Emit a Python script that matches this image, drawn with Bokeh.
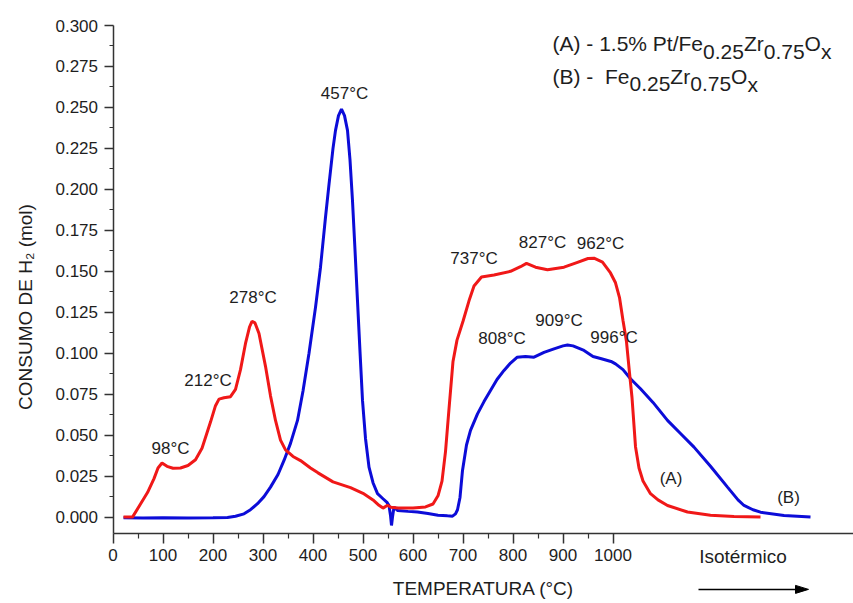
from bokeh.plotting import figure
from bokeh.models import Range1d, FixedTicker, PrintfTickFormatter, Label, Title, ColumnDataSource
from bokeh.embed import file_html
from bokeh.resources import INLINE

# (A) 1.5% Pt/Fe0.25Zr0.75Ox  -- H2 consumption vs temperature
temp_a = [21, 39, 55, 69, 82, 90, 98, 108, 120, 135, 150, 165, 178, 195, 205, 212, 222, 235,
          245, 255, 265, 273, 278, 284, 292, 305, 315, 325, 335, 345, 360, 375, 395, 410,
          440, 475, 500, 520, 532, 540, 549, 556, 570, 600, 625, 640, 650, 658, 665, 672,
          680, 688, 700, 712, 722, 737, 762, 795, 815, 827, 845, 869, 902, 929, 950, 962,
          979, 995, 1005, 1013, 1020, 1027, 1033, 1038, 1045, 1052, 1060, 1075, 1090, 1109,
          1149, 1195, 1242, 1295]
h2_a = [0.000, 0.000, 0.008, 0.015, 0.0235, 0.030, 0.033, 0.031, 0.0298, 0.030, 0.0315, 0.035,
        0.042, 0.058, 0.068, 0.072, 0.0728, 0.0735, 0.078, 0.090, 0.106, 0.116, 0.1195, 0.1185,
        0.112, 0.092, 0.074, 0.059, 0.047, 0.041, 0.037, 0.0345, 0.030, 0.027, 0.0215, 0.018,
        0.0145, 0.0105, 0.0072, 0.0055, 0.0072, 0.006, 0.0055, 0.0056, 0.0062, 0.008, 0.013,
        0.022, 0.040, 0.066, 0.095, 0.108, 0.1195, 0.132, 0.141, 0.1465, 0.1478, 0.150, 0.1528,
        0.1548, 0.1525, 0.151, 0.1525, 0.1555, 0.1578, 0.158, 0.1556, 0.149, 0.143, 0.134,
        0.120, 0.107, 0.088, 0.073, 0.043, 0.030, 0.022, 0.0143, 0.0105, 0.0071, 0.0031,
        0.0012, 0.0004, 0.000]

# (B) Fe0.25Zr0.75Ox
temp_b = [21, 60, 100, 150, 200, 229, 245, 262, 275, 289, 302, 315, 330, 342, 355, 369, 380,
          392, 405, 415, 425, 432, 440, 445, 451, 457, 463, 469, 474, 479, 484, 489, 494, 499,
          505, 512, 520, 529, 540, 548, 552, 555, 557, 559, 562, 569, 590, 609, 630, 650, 669,
          679, 685, 689, 694, 699, 707, 715, 729, 742, 755, 768, 782, 795, 808, 825, 842, 862,
          882, 900, 909, 920, 942, 960, 975, 996, 1005, 1020, 1035, 1055, 1080, 1109, 1135,
          1162, 1195, 1229, 1250, 1262, 1280, 1295, 1342, 1395]
h2_b = [-0.0004, -0.0005, -0.0004, -0.0005, -0.0004, -0.0003, 0.0005, 0.002, 0.0045, 0.0082,
        0.0125, 0.0183, 0.026, 0.0346, 0.045, 0.059, 0.077, 0.100, 0.128, 0.1525, 0.183, 0.203,
        0.225, 0.236, 0.245, 0.249, 0.245, 0.236, 0.218, 0.193, 0.163, 0.132, 0.101, 0.0712,
        0.048, 0.0305, 0.021, 0.0143, 0.0112, 0.009, 0.007, 0.001, -0.0051, 0.000, 0.0061,
        0.0041, 0.0035, 0.0031, 0.0022, 0.0012, 0.0008, 0.0006, 0.002, 0.0045, 0.012, 0.0285,
        0.044, 0.0529, 0.063, 0.0705, 0.0773, 0.084, 0.0895, 0.094, 0.0975, 0.098, 0.0976,
        0.1005, 0.1027, 0.1045, 0.105, 0.1045, 0.1017, 0.098, 0.0968, 0.095, 0.0935, 0.090,
        0.0844, 0.0783, 0.070, 0.059, 0.051, 0.0427, 0.031, 0.0183, 0.0105, 0.0071, 0.0045,
        0.003, 0.001, 0.000]

# peak labels
peak_text = ["98°C", "212°C", "278°C", "457°C", "737°C", "827°C", "962°C",
             "808°C", "909°C", "996°C", "(A)", "(B)"]
peak_x = [115, 190, 280, 463, 722, 859, 975, 778, 892, 1002, 1116, 1351]
peak_y = [0.0418, 0.0834, 0.134, 0.2583, 0.1577, 0.1678, 0.1668, 0.1088, 0.120, 0.1098,
          0.0234, 0.0122]

x_major = [0, 100, 200, 300, 400, 500, 600, 700, 800, 900, 1000]
x_minor = [50, 150, 250, 350, 450, 550, 650, 750, 850, 950]
y_major = [0.000, 0.025, 0.050, 0.075, 0.100, 0.125, 0.150, 0.175, 0.200, 0.225, 0.250,
           0.275, 0.300]
y_minor = [0.0125, 0.0375, 0.0625, 0.0875, 0.1125, 0.1375, 0.1625, 0.1875, 0.2125, 0.2375,
           0.2625, 0.2875]

# legend lines: (text, is_subscript, extra gap before the piece in spaces)
legend_a = [("(A) - 1.5% Pt/Fe", False, 0), ("0.25", True, 0), ("Zr", False, 0),
            ("0.75", True, 0), ("O", False, 0), ("x", True, 0)]
legend_b = [("(B) -", False, 0), ("Fe", False, 2), ("0.25", True, 0), ("Zr", False, 0),
            ("0.75", True, 0), ("O", False, 0), ("x", True, 0)]

FONT = "Liberation Sans"
INK = "#1e1e1e"
RED = "#f01818"
BLUE = "#0c0cd8"

# geometry of the plotting area (px) and its data scales
LEFT, TOP = 45, 10
AXIS_TOP_PX = 25                          # where y = Y_TOP sits on the canvas
FRAME_W, FRAME_H = 853 - LEFT, 603 - TOP
Y_BASE, Y_TOP = -0.01, 0.30              # extent of the drawn y axis
PX_PER_Y = 508 / (Y_TOP - Y_BASE)
PX_PER_X = 0.5
X_START = -(112.5 - LEFT) / PX_PER_X      # room left of the y axis for its tick labels
X_END = X_START + FRAME_W / PX_PER_X
Y_END = Y_TOP + (AXIS_TOP_PX - TOP) / PX_PER_Y
Y_START = Y_END - FRAME_H / PX_PER_Y      # room below the x axis for its labels

p = figure(width=853, height=603, x_range=Range1d(X_START, X_END),
           y_range=Range1d(Y_START, Y_END),
           output_backend="svg", toolbar_location=None,
           min_border_left=LEFT, min_border_right=0, min_border_top=TOP, min_border_bottom=0)
p.outline_line_color = None
p.grid.visible = False
p.background_fill_color = "white"
p.border_fill_color = "white"

p.line(temp_b, h2_b, line_color=BLUE, line_width=3)
p.line(temp_a, h2_a, line_color=RED, line_width=3)

src = ColumnDataSource(dict(x=peak_x, y=peak_y, t=peak_text))
p.text(x="x", y="y", text="t", source=src, text_align="center", text_baseline="middle",
       text_font_size="17px", text_color=INK, text_font={"value": FONT})

# axes, drawn inside the frame at x = 0 and y = Y_BASE
xa = p.xaxis[0]
xa.fixed_location = Y_BASE
xa.bounds = (0, X_END)
xa.ticker = FixedTicker(ticks=x_major, minor_ticks=x_minor)
xa.axis_label = "TEMPERATURA (°C)"
xa.major_tick_out = 10
xa.major_tick_in = 0
xa.minor_tick_out = 5
xa.minor_tick_in = 0
xa.major_label_standoff = 5
xa.axis_label_standoff = 14

ya = p.yaxis[0]
ya.fixed_location = 0
ya.bounds = (Y_BASE, Y_TOP)
ya.ticker = FixedTicker(ticks=y_major, minor_ticks=y_minor)
ya.formatter = PrintfTickFormatter(format="%.3f")
ya.major_tick_out = 9
ya.major_tick_in = 0
ya.minor_tick_out = 4
ya.minor_tick_in = 0
ya.major_label_standoff = 6

for ax in (xa, ya):
    ax.axis_line_color = "#333333"
    ax.axis_line_width = 1.5
    ax.major_tick_line_color = "#333333"
    ax.minor_tick_line_color = "#333333"
    ax.major_tick_line_width = 1.5
    ax.minor_tick_line_width = 1.2
    ax.major_label_text_font = FONT
    ax.major_label_text_font_size = "17px"
    ax.major_label_text_color = INK
    ax.axis_label_text_font = FONT
    ax.axis_label_text_font_size = "19px"
    ax.axis_label_text_font_style = "normal"
    ax.axis_label_text_color = INK

# y axis title, centred on the drawn axis extent
frame_mid = (Y_END + Y_START) / 2
axis_mid = (Y_TOP + Y_BASE) / 2
p.add_layout(Title(text="CONSUMO DE H₂ (mol)", align="center",
                   offset=(axis_mid - frame_mid) * PX_PER_Y, standoff=20,
                   text_font=FONT, text_font_size="19px", text_font_style="normal",
                   text_color=INK), "left")

# isothermal segment marker below the axis
p.add_layout(Label(x=1260, y=-0.0238, text="Isotérmico", text_align="center",
                   text_baseline="middle", text_font=FONT, text_font_size="19px",
                   text_color=INK))
arrow_y = -0.0441
arrow_x0, arrow_x1 = 1171, 1391
head_len, head_half = 13 / PX_PER_X, 4 / PX_PER_Y
p.segment(x0=[arrow_x0], y0=[arrow_y], x1=[arrow_x1 - head_len], y1=[arrow_y],
          line_color="black", line_width=1.5)
p.patch(x=[arrow_x1 - head_len, arrow_x1, arrow_x1 - head_len],
        y=[arrow_y + head_half, arrow_y, arrow_y - head_half],
        fill_color="black", line_color="black", line_width=1)

# legend with subscripts, laid out piece by piece
ARIAL = {'(': 333, ')': 333, 'A': 667, 'B': 667, ' ': 278, '-': 333, '1': 556, '.': 278,
         '5': 556, '%': 889, 'P': 667, 't': 278, '/': 278, 'F': 611, 'e': 556, '0': 556,
         '2': 556, '7': 556, 'Z': 611, 'r': 333, 'O': 778, 'x': 500}
MAIN_SIZE, SUB_SIZE, SUB_DROP = 21, 21, 8


def draw_legend_line(pieces, x0, y_mid):
    offset = 0.0
    for txt, sub, gap in pieces:
        size = SUB_SIZE if sub else MAIN_SIZE
        offset += gap * ARIAL[' '] * size / 1000
        y = y_mid - (SUB_DROP / PX_PER_Y if sub else 0)
        p.add_layout(Label(x=x0 + offset / PX_PER_X, y=y, text=txt, text_align="left",
                           text_baseline="middle", text_font=FONT,
                           text_font_size=f"{size}px", text_color=INK))
        offset += sum(ARIAL[c] for c in txt) * size / 1000


draw_legend_line(legend_a, 879, 0.2890)
draw_legend_line(legend_b, 879, 0.2689)

open("out.html", "w").write(file_html(p, INLINE))
